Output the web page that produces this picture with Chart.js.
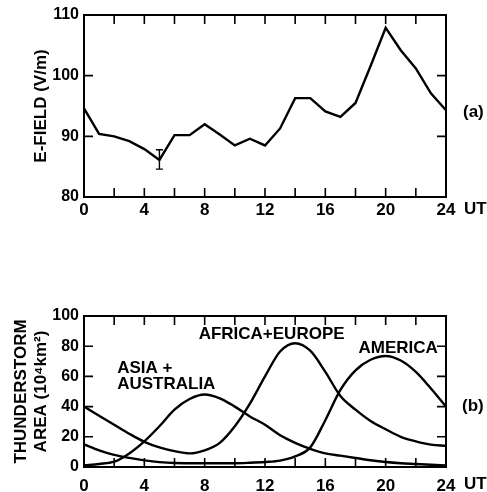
<!DOCTYPE html>
<html>
<head>
<meta charset="utf-8">
<script src="https://cdn.jsdelivr.net/npm/chart.js@4.4.0/dist/chart.umd.min.js"></script>
<style>
  body { margin: 0; background: #fff; }
  #wrap { position: relative; width: 487px; height: 492px; }
  canvas { position: absolute; left: 0; }
  #topChart { top: 0; }
  #botChart { top: 250px; }
</style>
</head>
<body>
<div id="wrap">
  <canvas id="topChart" width="487" height="250"></canvas>
  <canvas id="botChart" width="487" height="242"></canvas>
</div>
<script>
// hours UT
const hours = [0, 1, 2, 3, 4, 5, 6, 7, 8, 9, 10, 11, 12, 13, 14, 15, 16, 17, 18, 19, 20, 21, 22, 23, 24];

// (a) E-field, V/m
const eField = [94.6, 90.4, 90.0, 89.2, 87.9, 86.1, 90.2, 90.2, 92.0, 90.3, 88.5, 89.6, 88.5,
  91.3, 96.3, 96.3, 94.1, 93.2, 95.5, 101.6, 107.9, 104.2, 101.2, 97.1, 94.3];
const errHour = [5];
const errLow = [84.6];
const errHigh = [87.8];

// (b) thunderstorm area, 10^4 km^2
const asia = [1, 2, 3.5, 9, 17, 27, 38, 45, 48, 45.5, 40, 33.5, 28, 21, 16, 12, 9, 7.5, 6, 4.5, 3.3, 2.5, 2, 1.5, 1];
const africa = [40, 34, 28, 22, 16.7, 13, 10.5, 9, 11, 16, 27, 42, 60, 76.5, 82, 77, 63, 47, 38, 30.5, 25, 20, 17, 14.8, 14];
const america = [15, 11, 8, 6, 4.4, 3.2, 2.6, 2.5, 2.5, 2.5, 2.5, 2.8, 3.3, 4.2, 7, 13, 31, 51, 64, 71, 73.5, 70.5, 63, 52, 40];

const curveLabels = ["ASIA +", "AUSTRALIA", "AFRICA+EUROPE", "AMERICA"];

const FONT = '"Liberation Sans", Arial, Helvetica, sans-serif';
Chart.defaults.font.family = FONT;
Chart.defaults.font.weight = "bold";
Chart.defaults.color = "#000";

function pts(ys) {
  return hours.map((h, i) => ({ x: h, y: ys[i] }));
}

// box round the plot with inward ticks, plus the loose texts
function framePlugin(extra) {
  return {
    id: "frame",
    afterDraw(chart) {
      const { ctx, chartArea: a, scales } = chart;
      const x = scales.x, y = scales.y;
      ctx.save();
      ctx.strokeStyle = "#000";
      ctx.lineWidth = 2;
      ctx.strokeRect(a.left, a.top, a.right - a.left, a.bottom - a.top);
      ctx.lineWidth = 1.6;
      ctx.beginPath();
      x.ticks.forEach((t) => {
        const px = x.getPixelForValue(t.value);
        ctx.moveTo(px, a.bottom); ctx.lineTo(px, a.bottom - 9);
        ctx.moveTo(px, a.top); ctx.lineTo(px, a.top + 9);
      });
      y.ticks.forEach((t) => {
        const py = y.getPixelForValue(t.value);
        ctx.moveTo(a.left, py); ctx.lineTo(a.left + 9, py);
        ctx.moveTo(a.right, py); ctx.lineTo(a.right - 9, py);
      });
      ctx.stroke();
      ctx.fillStyle = "#000";
      ctx.font = "bold 17px " + FONT;
      ctx.textAlign = "left";
      ctx.textBaseline = "top";
      ctx.fillText("UT", a.right + 18, a.bottom + extra.utGap);
      extra.draw(ctx, x, y, a);
      ctx.restore();
    },
  };
}

function axes(yMin, yMax, yStep, xPad, xHeight) {
  return {
    x: {
      type: "linear", min: 0, max: 24,
      grid: { display: false, drawTicks: false },
      border: { display: false },
      ticks: {
        stepSize: 2, autoSkip: false, maxRotation: 0, padding: xPad,
        font: { size: 17 },
        callback: (v) => (v % 4 === 0 ? String(v) : ""),
      },
      afterFit: (s) => { s.height = xHeight; },
    },
    y: {
      min: yMin, max: yMax,
      grid: { display: false, drawTicks: false },
      border: { display: false },
      ticks: { stepSize: yStep, padding: 5, font: { size: 16 } },
      afterFit: (s) => { s.width = 84; },
    },
  };
}

///////////// (a)
const topOpts = axes(80, 110, 10, 3, 53);
topOpts.y.title = { display: true, text: "E-FIELD (V/m)", font: { size: 17 }, padding: { top: 31, bottom: 0 } };

new Chart(document.getElementById("topChart"), {
  type: "line",
  data: {
    datasets: [{
      data: pts(eField),
      borderColor: "#000", borderWidth: 2.4,
      pointRadius: 0, tension: 0,
    }],
  },
  options: {
    responsive: false, animation: false,
    layout: { padding: { top: 15, right: 41, left: 0, bottom: 0 } },
    plugins: { legend: { display: false }, tooltip: { enabled: false } },
    scales: topOpts,
  },
  plugins: [framePlugin({
    utGap: 4,
    draw(ctx, x, y, a) {
      // error bar
      ctx.lineWidth = 1.4;
      ctx.beginPath();
      errHour.forEach((h, i) => {
        const px = x.getPixelForValue(h);
        const p1 = y.getPixelForValue(errLow[i]);
        const p2 = y.getPixelForValue(errHigh[i]);
        ctx.moveTo(px, p1); ctx.lineTo(px, p2);
        ctx.moveTo(px - 3.5, p1); ctx.lineTo(px + 3.5, p1);
        ctx.moveTo(px - 3.5, p2); ctx.lineTo(px + 3.5, p2);
      });
      ctx.stroke();
      ctx.textBaseline = "middle";
      ctx.fillText("(a)", a.right + 17, y.getPixelForValue(94));
    },
  })],
});

///////////// (b)
const botOpts = axes(0, 100, 20, 9, 25);
botOpts.y.title = {
  display: true, text: ["THUNDERSTORM", "AREA (10\u2074km\u00b2)"],
  font: { size: 17 }, padding: { top: 11, bottom: 0 },
};

new Chart(document.getElementById("botChart"), {
  type: "line",
  data: {
    datasets: [asia, africa, america].map((d) => ({
      data: pts(d),
      borderColor: "#000", borderWidth: 2.4,
      pointRadius: 0, cubicInterpolationMode: "monotone",
    })),
  },
  options: {
    responsive: false, animation: false,
    layout: { padding: { top: 66, right: 41, left: 0, bottom: 0 } },
    plugins: { legend: { display: false }, tooltip: { enabled: false } },
    scales: botOpts,
  },
  plugins: [framePlugin({
    utGap: 9,
    draw(ctx, x, y, a) {
      ctx.textBaseline = "middle";
      ctx.fillText(curveLabels[0], x.getPixelForValue(2.2), y.getPixelForValue(65.5));
      ctx.fillText(curveLabels[1], x.getPixelForValue(2.2), y.getPixelForValue(54.5));
      ctx.fillText(curveLabels[2], x.getPixelForValue(7.6), y.getPixelForValue(87.8));
      ctx.fillText(curveLabels[3], x.getPixelForValue(18.2), y.getPixelForValue(78.5));
      ctx.fillText("(b)", a.right + 16, y.getPixelForValue(40.5));
    },
  })],
});
</script>
</body>
</html>
